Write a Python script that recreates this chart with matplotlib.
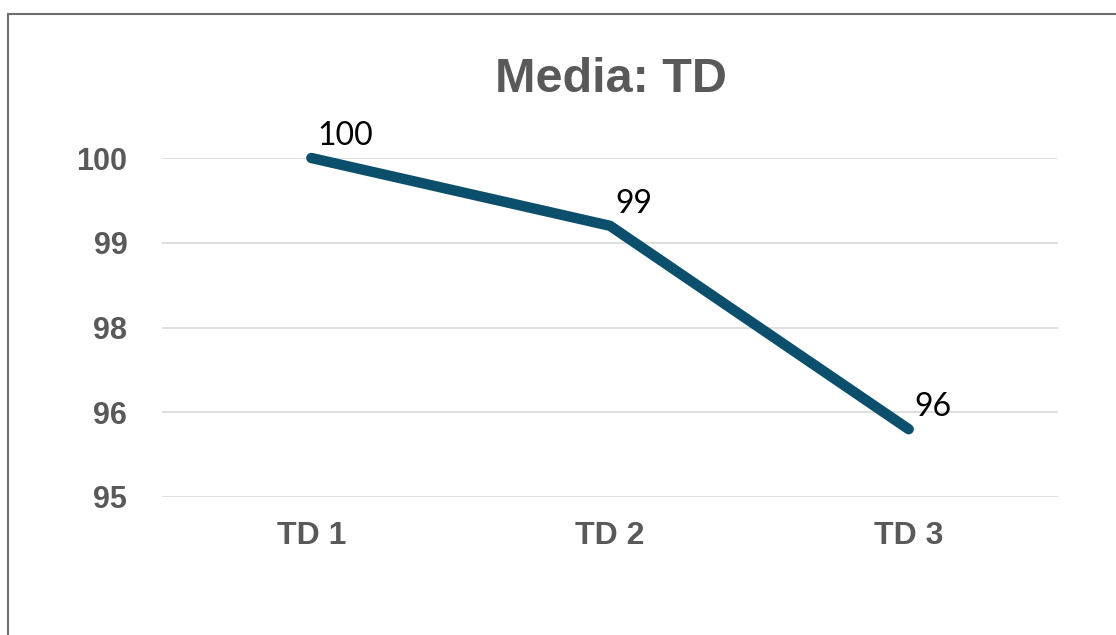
import matplotlib.pyplot as plt
from matplotlib.patches import Rectangle

categories = ['TD 1', 'TD 2', 'TD 3']
values = [100, 99, 96]
labels = ['100', '99', '96']
ytick_vals = [95, 96.25, 97.5, 98.75, 100]
ytick_labels = ['95', '96', '98', '99', '100']

W, H = 1116, 635
fig = plt.figure(figsize=(W / 100, H / 100), dpi=100)
fig.patch.set_facecolor('white')

# outer chart border (cut off at right/bottom)
fig.patches.append(Rectangle((8 / W, -0.1), 1.2, 1 - 14 / H + 0.1, transform=fig.transFigure,
                             fill=False, edgecolor='#6f6f6f', lw=1.5))

ax = fig.add_axes([162 / W, 1 - 497 / H, (1058 - 162) / W, (497 - 158) / H])
x = list(range(len(categories)))
ax.plot(x, values, color='#0b4f6c', lw=7.5, solid_capstyle='round', clip_on=False, zorder=3)

for xi, v, t in zip(x, values, labels):
    ax.annotate(t, (xi, v), xytext=(4, 16), textcoords='offset points', ha='left', va='center',
                fontsize=23, family='Lato', color='black')

ax.set_xlim(-0.5, 2.5)
ax.set_ylim(95, 100)
ax.set_yticks(ytick_vals)
ax.set_yticklabels(ytick_labels)
ax.set_xticks(x)
ax.set_xticklabels(categories)
ax.grid(axis='y', color='#d9d9d9', lw=1.2)
ax.set_axisbelow(True)
for s in ax.spines.values():
    s.set_visible(False)
ax.tick_params(length=0)
ax.tick_params(axis='y', pad=25, labelsize=22, labelcolor='#595959')
ax.tick_params(axis='x', pad=17, labelsize=23, labelcolor='#595959')
for lab in ax.get_xticklabels() + ax.get_yticklabels():
    lab.set_fontweight('bold')
    lab.set_family('Liberation Sans')

fig.text(611 / W, 1 - 80 / H, 'Media: TD', ha='center', va='center', fontsize=35,
         fontweight='bold', family='Liberation Sans', color='#595959')

plt.savefig('out.png', dpi=100)
